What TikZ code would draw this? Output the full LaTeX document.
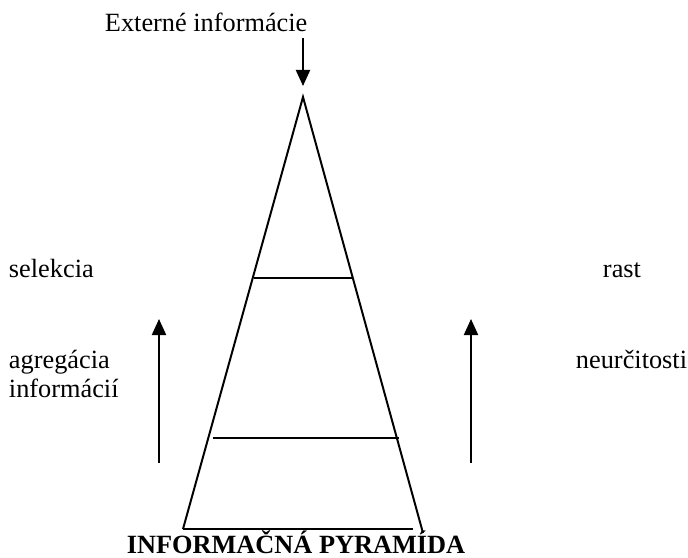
\documentclass[tikz,border=0pt]{standalone}
\usepackage{fontspec}
\setmainfont{Liberation Serif}
\usepackage{tikz}
\usetikzlibrary{arrows.meta}

\begin{document}
\begin{tikzpicture}[x=0.456pt,y=-0.456pt,line width=0.9pt,every node/.style={inner sep=0pt,anchor=base west,font=\fontsize{12pt}{13.2pt}\selectfont},arrowtip/.style={-{Triangle[width=6.4pt,length=7.3pt]}},title/.style={anchor=base,font=\fontsize{12pt}{13.2pt}\selectfont\bfseries}]
	
	\useasboundingbox (0,0) rectangle (688,557);
	
	% pyramid
	\coordinate (apex) at (303,97);
	\coordinate (baseL) at (183,529);
	\coordinate (baseR) at (413,529);
	\coordinate (edgeR) at (423,533);
	\coordinate (upL) at (254,278);
	\coordinate (upR) at (352,278);
	\coordinate (lowL) at (213,438);
	\coordinate (lowR) at (399,438);
	\draw (baseL) -- (apex) -- (edgeR);
	\draw (baseL) -- (baseR);
	\draw (upL) -- (upR);
	\draw (lowL) -- (lowR);
	
	% arrows
	\coordinate (extS) at (303,38);
	\coordinate (extE) at (303,86);
	\draw[arrowtip] (extS) -- (extE);
	\coordinate (aggS) at (159,463);
	\coordinate (aggE) at (159,319);
	\draw[arrowtip] (aggS) -- (aggE);
	\coordinate (rastS) at (471,463);
	\coordinate (rastE) at (471,319);
	\draw[arrowtip] (rastS) -- (rastE);
	
	% labels
	\node (ext) at (104,32) {Externé informácie};
	\node (sel) at (8,277) {selekcia};
	\node[align=left] (agg) at (8,397) {agregácia\\informácií};
	\node (rast) at (602,277) {rast};
	\node (neur) at (575,368) {neurčitosti};
	\node[title] (pyr) at (296,553) {INFORMAČNÁ PYRAMÍDA};
	
\end{tikzpicture}
\end{document}
